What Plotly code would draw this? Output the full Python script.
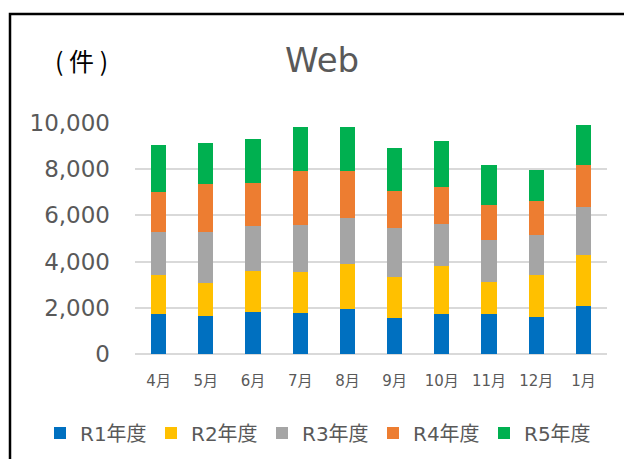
import plotly.graph_objects as go

months = ["4月", "5月", "6月", "7月", "8月", "9月", "10月", "11月", "12月", "1月"]
series_names = ["R1年度", "R2年度", "R3年度", "R4年度", "R5年度"]
r1 = [1730, 1650, 1820, 1780, 1960, 1570, 1750, 1730, 1600, 2060]
r2 = [1690, 1410, 1770, 1760, 1920, 1750, 2040, 1370, 1810, 2210]
r3 = [1860, 2220, 1970, 2060, 2020, 2120, 1850, 1850, 1740, 2110]
r4 = [1730, 2080, 1840, 2310, 2010, 1620, 1580, 1510, 1460, 1820]
r5 = [2020, 1790, 1920, 1930, 1930, 1840, 2000, 1710, 1340, 1730]
colors = ["#0070C0", "#FFC000", "#A5A5A5", "#ED7D31", "#00B050"]
y_ticks = [0, 2000, 4000, 6000, 8000, 10000]

FONT = "DejaVu Sans, Noto Sans CJK JP"
CJK = "Noto Sans CJK JP"
W, H = 624, 459
ml, mr, mt, mb = 135, 17, 123, 105
pw, ph = W - ml - mr, H - mt - mb

fig = go.Figure()
for name, vals, c in zip(series_names, [r1, r2, r3, r4, r5], colors):
    fig.add_trace(go.Bar(x=months, y=vals, name=name, marker=dict(color=c, line=dict(width=0))))

def px_x(p):
    return (p - ml) / pw

def px_y(p):
    return (H - mb - p) / ph

fig.update_layout(
    width=W, height=H,
    margin=dict(l=ml, r=mr, t=mt, b=mb, autoexpand=False),
    barmode="stack", bargap=0.68,
    plot_bgcolor="white", paper_bgcolor="white",
    font=dict(family=FONT, color="#595959"),
    showlegend=True,
    legend=dict(orientation="h", x=px_x(40), xanchor="left", y=px_y(433), yanchor="middle",
                font=dict(size=20, color="#595959", family=FONT),
                traceorder="normal", itemwidth=30, entrywidth=66, entrywidthmode="pixels"),
    xaxis=dict(showgrid=False, showline=False, ticks="", tickfont=dict(size=15, color="#595959"),
               ticklabelstandoff=16),
    yaxis=dict(range=[0, 10000], tickvals=y_ticks, tickformat=",d", showgrid=True,
               gridcolor="#D9D9D9", gridwidth=1.5, zeroline=True, zerolinecolor="#D9D9D9",
               zerolinewidth=1.5, showline=False, ticks="",
               tickfont=dict(size=23, color="#595959", family="DejaVu Sans"), ticklabelstandoff=24),
    annotations=[
        dict(text="Web", x=px_x(322), y=px_y(60), xref="paper", yref="paper", showarrow=False,
             font=dict(size=34, color="#595959", family="DejaVu Sans"), xanchor="center", yanchor="middle"),
        dict(text="( 件 )", x=px_x(81), y=px_y(60), xref="paper", yref="paper", showarrow=False,
             font=dict(size=25, color="#000000", family=CJK), xanchor="center", yanchor="middle"),
    ],
    shapes=[dict(type="rect", xref="paper", yref="paper", x0=px_x(10), x1=px_x(640),
                 y0=px_y(480), y1=px_y(14), line=dict(color="black", width=2.5),
                 fillcolor="rgba(0,0,0,0)", layer="above")],
)

fig.write_html("out.html", config={"displayModeBar": False},
               post_script="document.body.style.margin='0';document.body.style.overflow='hidden';")
